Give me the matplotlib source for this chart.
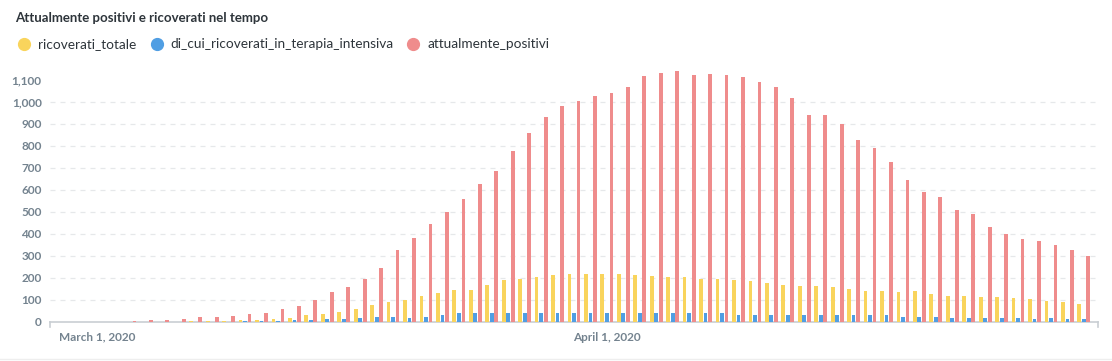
import matplotlib
matplotlib.use("Agg")
import matplotlib.pyplot as plt
import matplotlib.dates as mdates
from matplotlib.lines import Line2D
import matplotlib.transforms as mtransforms
import pandas as pd
import numpy as np

# ---------------- data ----------------
dates = pd.date_range("2020-02-28", "2020-04-30", freq="D")

ricoverati_totale = [
    0, 0, 0,
    0, 1, 1, 2, 2, 3, 4, 6, 8, 9,
    12, 17, 31, 35, 45, 59, 77, 90, 99, 117,
    131, 144, 144, 168, 190, 195, 204, 213, 217, 217,
    217, 217, 213, 208, 204, 204, 194, 194, 190, 185,
    176, 167, 163, 163, 158, 149, 140, 140, 135, 140,
    126, 117, 117, 113, 113, 108, 104, 94, 90, 81,
]
di_cui_ricoverati_in_terapia_intensiva = [
    0, 0, 0,
    0, 0, 1, 1, 1, 1, 2, 2, 3, 3,
    6, 7, 10, 13, 14, 19, 22, 22, 17, 25,
    34, 39, 39, 43, 43, 43, 39, 43, 43, 39,
    43, 43, 43, 39, 43, 43, 39, 39, 34, 34,
    34, 34, 34, 34, 34, 30, 30, 30, 25, 25,
    21, 16, 16, 16, 16, 16, 12, 16, 12, 12,
]
attualmente_positivi = [
    0, 0, 0,
    1, 3, 7, 9, 13, 22, 22, 26, 35, 40,
    58, 72, 99, 135, 158, 195, 244, 326, 380, 445,
    500, 557, 627, 686, 779, 861, 932, 982, 1005, 1027,
    1041, 1068, 1118, 1130, 1139, 1123, 1126, 1123, 1114, 1091,
    1068, 1018, 941, 941, 900, 827, 791, 727, 645, 591,
    568, 509, 491, 433, 400, 377, 368, 350, 327, 300,
]

series_names = ["ricoverati_totale", "di_cui_ricoverati_in_terapia_intensiva", "attualmente_positivi"]
series_colors = ["#F9D45C", "#509EE3", "#EF8C8C"]
yticks = list(range(0, 1101, 100))
xtick_dates = ["2020-03-01", "2020-04-01"]
xtick_labels = ["March 1, 2020", "April 1, 2020"]
title = "Attualmente positivi e ricoverati nel tempo"

# ---------------- figure ----------------
W, H = 1112, 361
fig = plt.figure(figsize=(W / 100, H / 100), dpi=100)
fig.patch.set_facecolor("white")

ax_left, ax_right = 50, 1098
ax_bottom_px = 322
ymax = 1150
px_per_unit = 0.22
ax_h = ymax * px_per_unit
ax = fig.add_axes([ax_left / W, (H - ax_bottom_px) / H, (ax_right - ax_left) / W, ax_h / H])

x = mdates.date2num(dates)
off = 0.275
bw = 0.23
all_series = [ricoverati_totale, di_cui_ricoverati_in_terapia_intensiva, attualmente_positivi]
for i, (vals, col) in enumerate(zip(all_series, series_colors)):
    ax.bar(x + (i - 1) * off, vals, width=bw, color=col, linewidth=0, zorder=3)

pad = 0.86
ax.set_xlim(x[0] - pad, x[-1] + pad)
ax.set_ylim(0, ymax)

# grid
for v in yticks[1:-1]:
    ax.axhline(v, color="#E6E8EA", lw=0.9, dashes=(4, 4), zorder=1)

for s in ["top", "right", "left"]:
    ax.spines[s].set_visible(False)
ax.spines["bottom"].set_color("#C9CED3")
ax.spines["bottom"].set_linewidth(1.2)

tick_color = "#74838F"
fs = 8.5
ax.set_yticks(yticks)
ax.set_yticklabels([f"{v:,}" for v in yticks], fontfamily="Lato", fontweight="bold",
                   fontsize=fs, color=tick_color)
ax.tick_params(axis="y", length=0, pad=6)
ax.set_xticks(mdates.date2num(pd.to_datetime(xtick_dates)))
ax.set_xticklabels(xtick_labels, fontfamily="Lato", fontweight="bold", fontsize=fs, color=tick_color)
ax.tick_params(axis="x", length=0, pad=7)

# end ticks of the x axis
trans = mtransforms.blended_transform_factory(ax.transAxes, ax.transAxes)
for xe in (0, 1):
    ax.add_line(Line2D([xe, xe], [0, -5 / ax_h], transform=trans, color="#C9CED3",
                       lw=1.2, clip_on=False))

# title
fig.text(15 / W, 1 - 18 / H, title, fontfamily="Lato", fontweight="bold", fontsize=9.5,
         color="#2E353B", va="center", ha="left")

# legend
leg_circle_x = [24, 157, 413]
leg_text_x = [38, 170, 427]
leg_y = 44
for cx, tx, name, col in zip(leg_circle_x, leg_text_x, series_names, series_colors):
    fig.add_artist(Line2D([cx / W], [1 - leg_y / H], marker="o", markersize=8.5,
                          color=col, linestyle="none", transform=fig.transFigure))
    fig.text(tx / W, 1 - leg_y / H, name, fontfamily="Lato", fontsize=9.8,
             color="#2E353B", va="center", ha="left")

# card bottom border
fig.add_artist(Line2D([0, 1], [1 - 359 / H, 1 - 359 / H], color="#EEEEEE", lw=1,
                      transform=fig.transFigure))

fig.savefig("out.png", dpi=100, facecolor="white")
